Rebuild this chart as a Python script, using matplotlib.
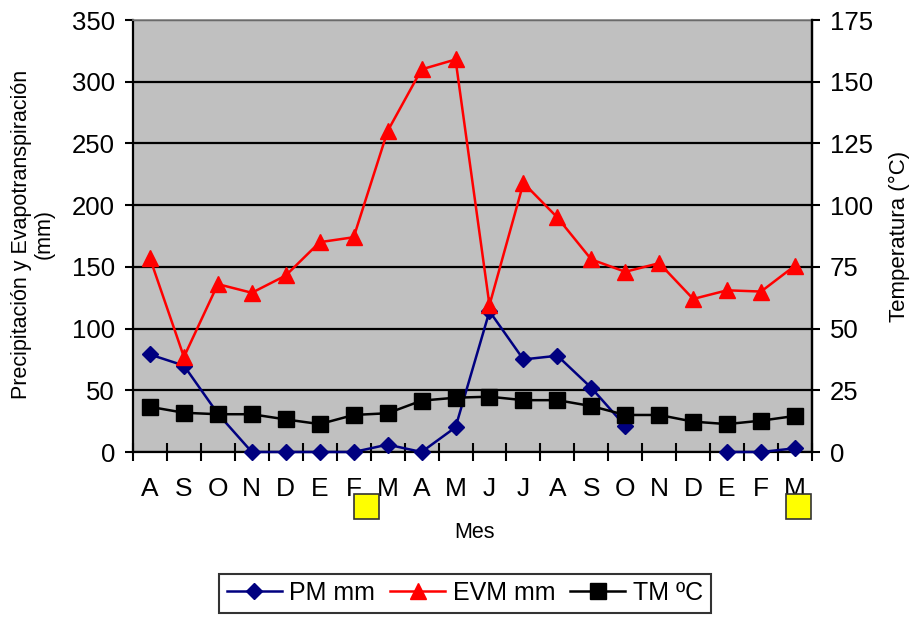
import numpy as np
import matplotlib
matplotlib.use("Agg")
import matplotlib.pyplot as plt
from matplotlib.transforms import blended_transform_factory

plt.rcParams['font.family'] = ['Liberation Sans', 'DejaVu Sans']

meses = ['A', 'S', 'O', 'N', 'D', 'E', 'F', 'M', 'A', 'M',
         'J', 'J', 'A', 'S', 'O', 'N', 'D', 'E', 'F', 'M']
pm_mm = [79, 70, 31, 0, 0, 0, 0, 6, 0, 20,
         114, 75, 78, 52, 21, np.nan, np.nan, 0, 0, 3]
evm_mm = [157, 77, 136, 129, 143, 170, 174, 260, 310, 318,
          119, 218, 190, 156, 146, 153, 124, 131, 130, 151]
tm_c = [18.3, 15.9, 15.3, 15.3, 13.2, 11.3, 15.0, 15.7, 20.8, 22.0,
        22.4, 21.0, 21.0, 18.6, 15.0, 15.0, 12.3, 11.3, 12.7, 14.6]

x = np.arange(len(meses))

fig = plt.figure(figsize=(9.1, 6.17), dpi=100)
ax = fig.add_axes([133 / 910, 165 / 617, 679 / 910, 432 / 617])
ax.set_facecolor('#C0C0C0')

ax.plot(x, pm_mm, color='#000080', lw=1.8, marker='D', ms=8,
        label='PM mm', clip_on=False, zorder=3)
ax.plot(x, evm_mm, color='#FF0000', lw=1.8, marker='^', ms=11,
        label='EVM mm', clip_on=False, zorder=4)

ax.set_xlim(-0.5, len(meses) - 0.5)
ax.set_ylim(0, 350)
ax.set_yticks(np.arange(0, 351, 50))
ax.yaxis.grid(True, color='black', lw=1.6)
ax.set_axisbelow(True)

# ticks on the category edges, labels in the middle
ax.set_xticks(np.arange(-0.5, len(meses), 1.0))
ax.set_xticklabels([])
ax.set_xticks(x, minor=True)
ax.set_xticklabels(meses, minor=True, fontsize=19)
ax.tick_params(axis='x', which='major', direction='inout', length=13, width=1.5)
ax.tick_params(axis='x', which='minor', length=0, pad=18)
ax.tick_params(axis='y', direction='out', length=6, width=1.5, labelsize=18.5, pad=7)

for s in ['left', 'bottom', 'right']:
    ax.spines[s].set_linewidth(1.6)
    ax.spines[s].set_color('black')
ax.spines['top'].set_color('#808080')
ax.spines['top'].set_linewidth(1.2)

ax2 = ax.twinx()
ax2.plot(x, tm_c, color='black', lw=1.8, marker='s', ms=11, label='TM ºC')
ax2.set_ylim(0, 175)
ax2.set_yticks(np.arange(0, 176, 25))
ax2.tick_params(axis='y', direction='out', length=6, width=1.5, labelsize=18.5, pad=7)
ax2.spines['right'].set_linewidth(1.6)
for s in ['left', 'bottom', 'top']:
    ax2.spines[s].set_visible(False)

# yellow boxes under the month labels
trans = blended_transform_factory(ax.transData, ax.transAxes)
for xp in (6.36, 19.1):
    ax.plot([xp], [-0.124], transform=trans, marker='s', ms=18,
            mfc='#FFFF00', mec='#333333', mew=1.2, clip_on=False, zorder=5)

fig.text(33 / 910, 1 - 234 / 617, 'Precipitación y Evapotranspiración\n(mm)',
         rotation=90, ha='center', va='center', fontsize=15.5, linespacing=1.1)
fig.text(899 / 910, 1 - 236 / 617, 'Temperatura (°C)',
         rotation=90, ha='center', va='center', fontsize=16)
fig.text(474 / 910, 1 - 532 / 617, 'Mes', ha='center', va='center', fontsize=15.5)

h1, l1 = ax.get_legend_handles_labels()
h2, l2 = ax2.get_legend_handles_labels()
leg = fig.legend(h1 + h2, l1 + l2, loc='center', ncol=3,
                 bbox_to_anchor=(465 / 910, 1 - 593 / 617), fontsize=18,
                 frameon=True, fancybox=False, edgecolor='black',
                 handlelength=2.2, columnspacing=0.6, handletextpad=0.3,
                 borderpad=0.3)
leg.get_frame().set_linewidth(1.5)

fig.savefig('out.png', dpi=100)
